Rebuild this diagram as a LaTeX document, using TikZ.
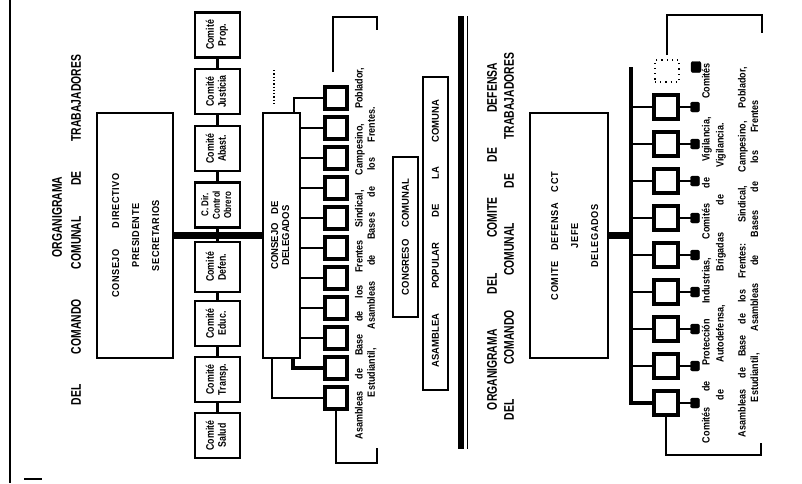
\documentclass[tikz,border=0pt]{standalone}
\usepackage{graphicx}
\usepackage{fontspec}
\setmainfont{Liberation Sans}
\newfontfamily\wsf[LetterSpace=6]{Liberation Sans}
\usetikzlibrary{calc}
\newcommand\hsc{0.84}
\newcommand\rt[1]{\rotatebox{90}{\scalebox{\hsc}[1]{\begin{tabular}{@{}c@{}}#1\end{tabular}}}}
\newcommand\vl[2]{\pgfmathsetlengthmacro\vlw{#1/\hsc}\rotatebox{90}{\scalebox{\hsc}[1]{\makebox[\vlw][s]{#2}}}}
\newcommand\sw[2]{\pgfmathsetlengthmacro\vlw{#1/\hsc}\makebox[\vlw][s]{#2}}
\tikzset{
  box/.style={draw, line width=2.8pt, inner sep=0pt, outer sep=0pt},
  cbox/.style={box, minimum width=45pt, minimum height=45pt, font={\def\hsc{0.8}\bfseries\fontsize{11}{12}\selectfont}},
  sbox/.style={draw, line width=3.2pt, inner sep=0pt, outer sep=0pt, minimum width=22pt, minimum height=22pt},
  rbox/.style={sbox, minimum width=24pt, minimum height=24pt},
  blob/.style={fill=black, draw=black, rounded corners=2pt, minimum width=9pt, minimum height=10pt, inner sep=0pt, outer sep=0pt},
  wire/.style={line width=2.6pt},
  thinwire/.style={line width=1.8pt},
  bar/.style={line width=7pt},
  txt/.style={inner sep=0pt, outer sep=0pt},
  ttl/.style={txt, font={\def\hsc{0.74}\bfseries\fontsize{14}{16}\selectfont}},
  small/.style={txt, font={\def\hsc{0.86}\bfseries\fontsize{10.5}{12}\selectfont}},
  bigtext/.style={font={\def\hsc{0.92}\wsf\bfseries\fontsize{10}{20}\selectfont}},
  midtext/.style={font={\def\hsc{0.95}\bfseries\fontsize{10}{11}\selectfont}}
}
\begin{document}
\begin{tikzpicture}[x=1pt,y=-1pt]
\useasboundingbox (0,0) rectangle (802,483);
% page frame line and mark
\draw[line width=1.8pt] (10,0) -- (10,483);
\draw[line width=1.2pt] (24,479) -- (42,479);

% ---------- left diagram ----------
\node[ttl] (lt1) at (57,217) {\rotatebox{90}{\scalebox{\hsc}[1]{ORGANIGRAMA}}};
\node[ttl] (lt2) at (76,230) {\vl{350pt}{DEL COMANDO COMUNAL DE TRABAJADORES}};

\node[box, bigtext, minimum width=76pt, minimum height=245pt] (cdir) at (135,235.5)
  {\rt{\sw{124pt}{CONSEJO DIRECTIVO}\\PRESIDENTE\\SECRETARIOS}};

\node[cbox] (prop) at (217.5,35) {\rt{Comité\\Prop.}};
\node[cbox] (just) at (217.5,91.5) {\rt{Comité\\Justicia}};
\node[cbox] (abas) at (217.5,148.5) {\rt{Comité\\Abast.}};
\node[cbox, font={\def\hsc{0.8}\bfseries\fontsize{10}{11.3}\selectfont}] (ctrl) at (217.5,205) {\rt{C. Dir.\\Control\\Obrero}};
\node[cbox, minimum height=50pt] (defe) at (217.5,267) {\rt{Comité\\Defen.}};
\node[cbox] (educ) at (217.5,323.5) {\rt{Comité\\Educ.}};
\node[cbox] (tran) at (217.5,379.5) {\rt{Comité\\Transp.}};
\node[cbox] (salu) at (217.5,435.5) {\rt{Comité\\Salud}};
\foreach \a/\b in {prop/just, just/abas, abas/ctrl, ctrl/defe, defe/educ, educ/tran, tran/salu}
  \draw[wire] (\a) -- (\b);

\node[box, midtext, minimum width=37pt, minimum height=245pt] (dele) at (281.5,235.5)
  {\rt{\sw{68pt}{CONSEJO DE}\\DELEGADOS}};
\draw[bar] (cdir.east) -- (dele.west);
\draw[dotted, line width=1.3pt] (274,70) -- (274,106);

\foreach \i in {1,...,11}
  \node[sbox] (s\i) at (336,{98+30*(\i-1)}) {};
\foreach \i in {2,...,9}
  \draw[wire] (dele.east |- s\i) -- (s\i.west);
\draw[wire] (s1.west) -| ([xshift=-6pt]dele.north east);
\draw[line width=4pt] ([xshift=-7pt]dele.south east) |- (s10.west);
\draw[thinwire] ([xshift=-28pt]dele.south east) |- (s11.west);

% left bracket
\coordinate (lb1) at (333,72);
\coordinate (lb2) at (333,17);
\coordinate (lb3) at (377,17);
\coordinate (lb4) at (377,30);
\draw[wire] (lb1) -- (lb2) -- (lb3) -- (lb4);
\coordinate (lb5) at (377,463);
\coordinate (lb6) at (377,448);
\draw[wire] (s11.south) |- (lb5) -- (lb6);

\node[small] (la1) at (360,253.5) {\vl{372pt}{Asambleas de Base de los Frentes Sindical, Campesino, Poblador,}};
\node[small] (la2) at (372,252) {\vl{290pt}{Estudiantil, Asambleas de Bases de los Frentes.}};

% centre
\node[box, midtext, minimum width=25pt, minimum height=160pt] (cong) at (405.5,237)
  {\vl{116pt}{CONGRESO COMUNAL}};
\node[box, midtext, minimum width=25pt, minimum height=313pt] (asam) at (435.5,233.5)
  {\vl{268pt}{ASAMBLEA POPULAR DE LA COMUNA}};
\draw[line width=6pt] (461,16) -- (461,449);
\draw[line width=1.2pt] (467.5,16) -- (467.5,449);

% ---------- right diagram ----------
\node[ttl] (rt1) at (492,236.5) {\vl{347pt}{ORGANIGRAMA DEL COMITE DE DEFENSA}};
\node[ttl] (rt2) at (509,236.5) {\vl{367pt}{DEL COMANDO COMUNAL DE TRABAJADORES}};

\node[box, minimum width=78pt, minimum height=245pt] (cct) at (569,235.5) {};
\node[txt, bigtext] (cctt) at (574,236)
  {\rt{\sw{128pt}{COMITE DEFENSA CCT}\\JEFE\\DELEGADOS}};

\coordinate (bt) at (631,67);
\foreach \i in {1,...,9}{
  \node[rbox] (r\i) at (666,{107+37*(\i-1)}) {};
  \node[blob] (q\i) at (695,{107+37*(\i-1)}) {};
  \draw[wire] (r\i.east) -- (q\i.west);
}
\draw[line width=3.5pt] (bt) |- (r9.west);
\foreach \i in {1,...,8}
  \draw[wire] (bt |- r\i) -- (r\i.west);
\draw[bar] (cct.east) -- (cct.east -| bt);

\node[draw, loosely dotted, line width=1.2pt, inner sep=0pt, minimum width=24pt, minimum height=22pt] (r0) at (667,71) {};
\node[blob, minimum width=10pt, minimum height=11pt] (q0) at (696,67) {};

% right bracket
\coordinate (rb1) at (667,55);
\coordinate (rb2) at (667,15);
\coordinate (rb3) at (762,15);
\coordinate (rb4) at (762,33);
\draw[wire] (rb1) -- (rb2) -- (rb3) -- (rb4);
\coordinate (rb5) at (761,455);
\coordinate (rb6) at (761,443);
\draw[wire] (r9.south) |- (rb5) -- (rb6);

\node[small] (rc1) at (707,253) {\vl{380pt}{Comités de Protección Industrias, Comités de Vigilancia, Comités}};
\node[small] (rc2) at (721,261.5) {\vl{277pt}{de Autodefensa, Brigadas de Vigilancia.}};
\node[small] (ra1) at (743,252) {\vl{370pt}{Asambleas de Base de los Frentes: Sindical, Campesino, Poblador,}};
\node[small] (ra2) at (755,251) {\vl{302pt}{Estudiantil, Asambleas de Bases de los Frentes}};
\end{tikzpicture}
\end{document}
